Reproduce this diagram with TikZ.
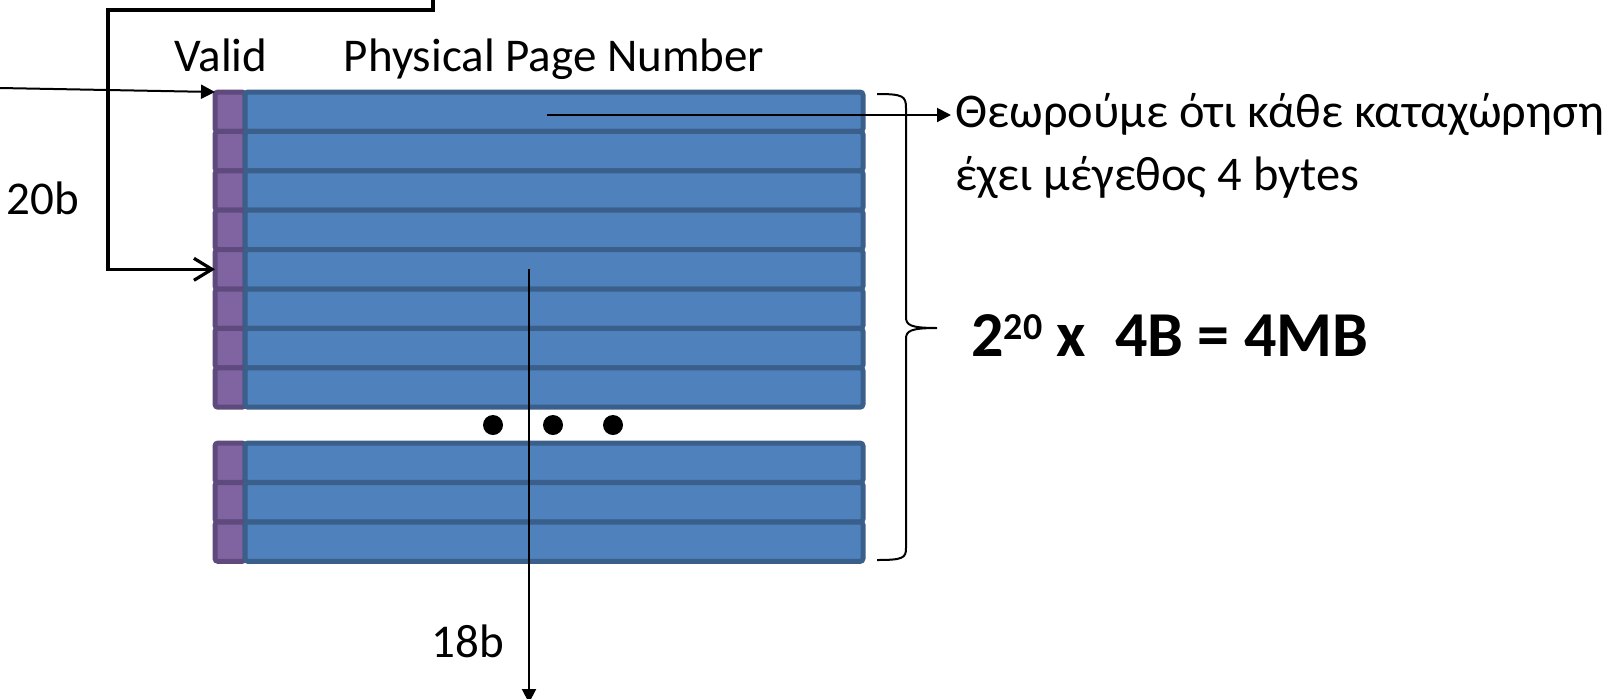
\documentclass[tikz,border=0pt]{standalone}
\usepackage{fontspec}
\setmainfont{Carlito}
\usetikzlibrary{arrows.meta}
\definecolor{validfill}{HTML}{8064A2}
\definecolor{validborder}{HTML}{5E4A7D}
\definecolor{ppnfill}{HTML}{4F81BD}
\definecolor{ppnborder}{HTML}{3A5F8B}

\begin{document}
\begin{tikzpicture}[x=0.5pt,y=-0.5pt,
    every node/.style={font=\fontsize{23.5}{28}\selectfont, inner sep=0pt},
    notetext/.style={anchor=base west, font=\fontsize{24.2}{28}\selectfont},
    validcell/.style={draw=validborder, fill=validfill, line width=2.5pt, rounded corners=1.5pt, minimum width=15pt, minimum height=19.7pt, outer sep=0pt, anchor=north west},
    ppncell/.style={draw=ppnborder, fill=ppnfill, line width=2.5pt, rounded corners=1.5pt, minimum width=309pt, minimum height=19.7pt, outer sep=0pt, anchor=north west},
    thinarrow/.style={line width=1pt, -{Triangle[length=7pt,width=7pt]}},
    elbowarrow/.style={line width=1.6pt, -{Straight Barb[length=9pt,width=11pt]}}]
    \useasboundingbox (0,0) rectangle (1602,698);

    %Shape: page table, upper rows
    \foreach \i in {1,...,8}{
        \node[validcell] (v\i) at (215,{92+(\i-1)*39.4}) {};
        \node[ppncell] (p\i) at (245,{92+(\i-1)*39.4}) {};
    }
    %Shape: page table, last rows
    \foreach \j in {1,2,3}{
        \node[validcell] (vb\j) at (215,{443+(\j-1)*39.5}) {};
        \node[ppncell] (pb\j) at (245,{443+(\j-1)*39.5}) {};
    }
    %Shape: dots
    \foreach \x in {493,553,613}
        \fill (\x,425) circle [radius=10];

    %Shape: brace
    \draw[line width=1pt] (877,94) .. controls (903,94) and (906,96) .. (906,108) -- (906,317) .. controls (906,325) and (910,328) .. (937,328) .. controls (910,328) and (906,331) .. (906,339) -- (906,548) .. controls (906,558) and (903,560) .. (877,560);

    % Text Node
    \node[anchor=base] (valid) at (221,71) {Valid};
    % Text Node
    \node[anchor=base] (ppn) at (554,71) {Physical Page Number};
    % Text Node
    \node[anchor=base] (vpnbits) at (43,214) {20b};
    % Text Node
    \node[anchor=base] (ppnbits) at (468,657) {18b};
    % Text Node
    \node[notetext] (note) at (955,127) {Θεωρούμε ότι κάθε καταχώρηση};
    \node[notetext] (notetwo) at (955,190) {έχει μέγεθος 4 bytes};
    % Text Node
    \node[anchor=base west, font=\fontsize{32}{36}\selectfont\bfseries] (tablesize) at (971,356) {2\raisebox{8.5pt}{\fontsize{19}{19}\selectfont\bfseries 20} x\ \ 4B = 4MB};

    %Straight Lines
    \coordinate (vpnin) at (0,88);
    \draw[thinarrow] (vpnin) -- (v1.north west);
    \coordinate (elbowtop) at (433,-4);
    \draw[elbowarrow] (elbowtop) |- (108,10) |- (v5.west);
    \coordinate (entrystart) at (547,115);
    \draw[thinarrow] (entrystart) -- ([xshift=-2pt]entrystart -| note.west);
    \coordinate (ppnout) at (529,269);
    \coordinate (ppnend) at (529,703);
    \draw[thinarrow] (ppnout) -- (ppnend);
\end{tikzpicture}
\end{document}
